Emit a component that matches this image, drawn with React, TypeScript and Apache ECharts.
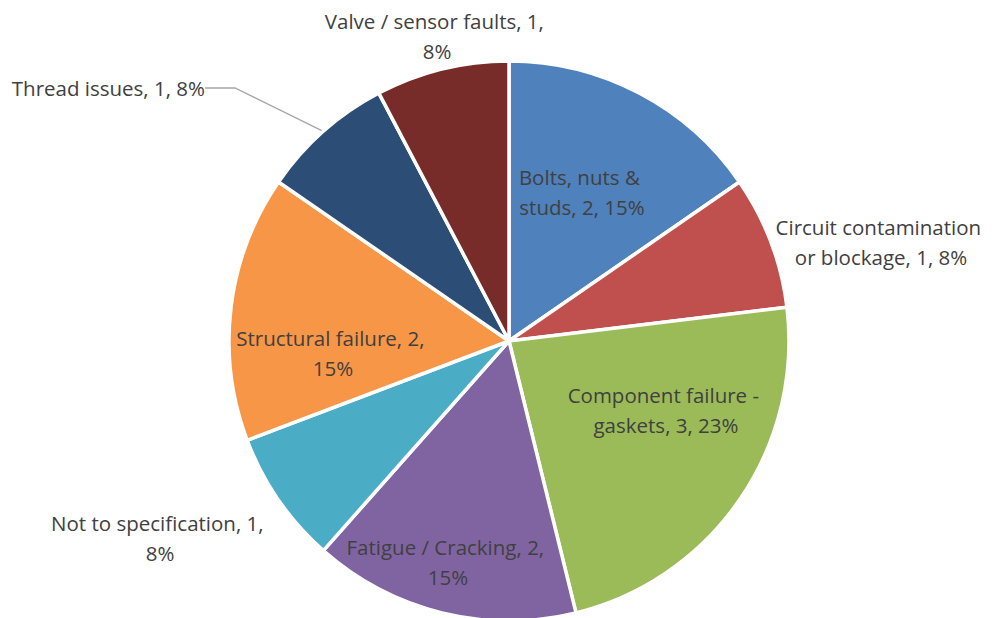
import React, { useEffect, useRef } from "react";
import * as echarts from "echarts";

const categories = [
  "Bolts, nuts & studs",
  "Circuit contamination or blockage",
  "Component failure - gaskets",
  "Fatigue / Cracking",
  "Not to specification",
  "Structural failure",
  "Thread issues",
  "Valve / sensor faults",
];
const counts = [2, 1, 3, 2, 1, 2, 1, 1];
const colors = ["#4F81BD", "#C0504D", "#9BBB59", "#8064A2", "#4BACC6", "#F79646", "#2C4D75", "#772C2A"];

// label placement relative to pie centre: [dx, dy, align, wrap width]
const labelPlacement: [number, number, string, number][] = [
  [73, -149, "center", 145],
  [372, -99, "center", 222],
  [157, 69, "center", 212],
  [-61, 221, "center", 212],
  [-349, 197, "center", 226],
  [-176, 12, "center", 212],
  [-304, -253, "right", 0],
  [-72, -305, "center", 236],
];

const CX = 509;
const CY = 341;
const R = 280;

export default function App() {
  const ref = useRef<HTMLDivElement>(null);
  useEffect(() => {
    document.body.style.margin = "0";
    const chart = echarts.init(ref.current!, undefined, { renderer: "svg" });
    const data = categories.map((name, i) => {
      const p = labelPlacement[i];
      const isThread = i === 6;
      return {
        name,
        value: counts[i],
        itemStyle: { color: colors[i] },
        label: p[3] > 0 ? { width: p[3], overflow: "break" } : {},
        labelLine: { show: isThread },
      };
    });
    chart.setOption({
      animation: false,
      series: [
        {
          type: "pie",
          center: [CX, CY],
          radius: R,
          startAngle: 90,
          clockwise: true,
          percentPrecision: 0,
          avoidLabelOverlap: false,
          data,
          itemStyle: { borderColor: "#ffffff", borderWidth: 3.5 },
          label: {
            show: true,
            position: "outside",
            formatter: "{b}, {c}, {d}%",
            fontFamily: "Open Sans",
            fontSize: 20.5,
            lineHeight: 30,
            color: "#404040",
            align: "center",
          },
          labelLine: {
            show: false,
            lineStyle: { color: "#a6a6a6", width: 1.3 },
          },
          labelLayout: (params: any) => {
            const p = labelPlacement[params.dataIndex];
            return {
              x: CX + p[0],
              y: CY + p[1],
              align: p[2],
              verticalAlign: "middle",
            };
          },
        },
      ],
    });
    return () => chart.dispose();
  }, []);
  return <div ref={ref} style={{ width: 993, height: 618 }} />;
}
